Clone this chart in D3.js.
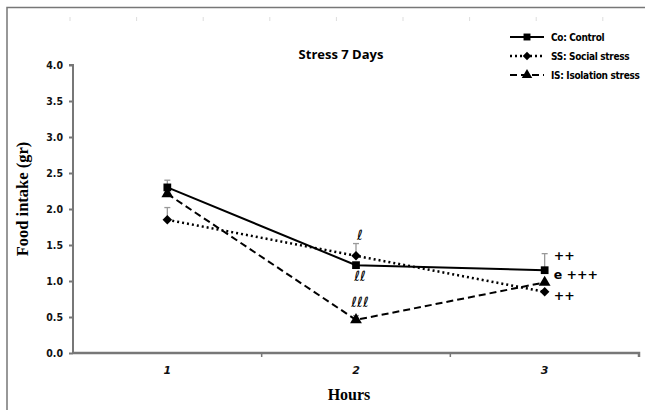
<!DOCTYPE html>
<html>
<head>
<meta charset="utf-8">
<script src="https://d3js.org/d3.v7.min.js"></script>
<style>
body { margin: 0; background: #fff; }
svg { display: block; }
</style>
</head>
<body>
<div id="chart"></div>
<script>
var hours = ['1', '2', '3'];
var yTicks = [0, 0.5, 1, 1.5, 2, 2.5, 3, 3.5, 4];

var control   = [2.30, 1.22, 1.15];
var controlUp = [2.40, null, 1.38];
var social    = [1.85, 1.35, 0.85];
var socialUp  = [2.02, 1.52, null];
var isolation   = [2.21, 0.46, 0.98];
var isolationUp = [null, 0.52, null];

var seriesNames = ['Co: Control', 'SS: Social stress', 'IS: Isolation stress'];

// annotations: [category, value, text]
var notes = [
  ['2', 1.57, 'ℓ'],
  ['2', 1.0, 'ℓℓ'],
  ['2', 0.64, 'ℓℓℓ'],
  ['3', 1.29, '++'],
  ['3', 1.03, 'e +++'],
  ['3', 0.74, '++']
];

var WIDTH = 645, HEIGHT = 410;
var LEFT = 73, RIGHT = 639, TOP = 65, BOTTOM = 353;

var svg = d3.select('#chart')
  .append('svg')
    .attr('width', WIDTH)
    .attr('height', HEIGHT);

// frame
svg.append('path')
  .attr('d', 'M7,' + HEIGHT + 'V7.5H' + WIDTH)
  .attr('fill', 'none')
  .attr('stroke', '#777')
  .attr('stroke-width', 1.5);

var x = d3.scaleBand().domain(hours).range([LEFT, RIGHT]);
var y = d3.scaleLinear().domain([0, 4]).range([BOTTOM, TOP]);
var cx = function(d) { return x(d) + x.bandwidth() / 2; };

// y axis
var yAxis = d3.axisLeft(y).tickValues(yTicks).tickSize(4).tickPadding(6)
  .tickFormat(d3.format('.1f'));
var gy = svg.append('g')
  .attr('transform', 'translate(' + LEFT + ',0)')
  .call(yAxis);
gy.select('.domain').attr('stroke', '#777').attr('stroke-width', 2)
  .attr('d', 'M-4,' + TOP + 'H0V' + BOTTOM);
gy.selectAll('.tick line').attr('stroke', '#777').attr('stroke-width', 2);
gy.selectAll('.tick text')
  .style('font-family', 'DejaVu Sans Condensed, DejaVu Sans')
  .style('font-weight', 'bold')
  .style('font-size', '10.5px')
  .attr('fill', '#111');

// x axis
var xAxis = d3.axisBottom(x).tickSize(0).tickPadding(13);
var gx = svg.append('g')
  .attr('transform', 'translate(0,' + BOTTOM + ')')
  .call(xAxis);
gx.select('.domain').attr('stroke', '#777').attr('stroke-width', 2.5)
  .attr('d', 'M' + LEFT + ',0H' + RIGHT + 'V4');
gx.selectAll('.tick text')
  .style('font-family', 'DejaVu Sans')
  .style('font-weight', 'bold')
  .style('font-style', 'italic')
  .style('font-size', '11px')
  .attr('fill', '#111');
// category separator ticks
gx.selectAll('.sep')
  .data(hours.slice(1))
  .enter().append('line')
    .attr('x1', function(d) { return x(d); })
    .attr('x2', function(d) { return x(d); })
    .attr('y1', 0).attr('y2', 4)
    .attr('stroke', '#777').attr('stroke-width', 1.5);

// faint marks along the top
svg.selectAll('.faint')
  .data(d3.range(70, 645, 66.6))
  .enter().append('line')
    .attr('x1', function(d) { return d; }).attr('x2', function(d) { return d; })
    .attr('y1', 17).attr('y2', 21)
    .attr('stroke', '#ddd');

// error bars
function errorBars(vals, ups) {
  var g = svg.append('g');
  hours.forEach(function(h, i) {
    if (ups[i] == null) return;
    var px = cx(h);
    g.append('line').attr('x1', px).attr('x2', px)
      .attr('y1', y(vals[i])).attr('y2', y(ups[i]))
      .attr('stroke', '#999').attr('stroke-width', 1.3);
    g.append('line').attr('x1', px - 3).attr('x2', px + 3)
      .attr('y1', y(ups[i])).attr('y2', y(ups[i]))
      .attr('stroke', '#999').attr('stroke-width', 1.3);
  });
}
errorBars(control, controlUp);
errorBars(social, socialUp);
errorBars(isolation, isolationUp);

var line = d3.line()
  .x(function(d, i) { return cx(hours[i]); })
  .y(function(d) { return y(d); });

var styles = [
  { data: control, dash: null, width: 2, symbol: d3.symbolSquare, size: 60, rot: 0 },
  { data: social, dash: '2,3', width: 2.5, symbol: d3.symbolSquare, size: 45, rot: 45 },
  { data: isolation, dash: '7,4', width: 2, symbol: d3.symbolTriangle, size: 60, rot: 0 }
];

styles.forEach(function(s) {
  svg.append('path')
    .datum(s.data)
    .attr('d', line)
    .attr('fill', 'none')
    .attr('stroke', '#000')
    .attr('stroke-width', s.width)
    .attr('stroke-dasharray', s.dash);
  svg.selectAll(null)
    .data(s.data)
    .enter().append('path')
      .attr('d', d3.symbol().type(s.symbol).size(s.size))
      .attr('transform', function(d, i) {
        return 'translate(' + cx(hours[i]) + ',' + y(d) + ') rotate(' + s.rot + ')';
      })
      .attr('fill', '#000');
});

// annotations
svg.selectAll('.note')
  .data(notes)
  .enter().append('text')
    .attr('x', function(d) { return cx(d[0]) + (d[0] === '2' ? 4 : 9); })
    .attr('y', function(d) { return y(d[1]); })
    .attr('text-anchor', function(d) { return d[0] === '2' ? 'middle' : 'start'; })
    .style('font-family', 'DejaVu Sans')
    .style('font-weight', function(d) { return d[0] === '2' ? 'normal' : 'bold'; })
    .style('font-size', function(d) { return d[0] === '2' ? '14px' : '12.5px'; })
    .attr('fill', '#000')
    .text(function(d) { return d[2]; });

// title
svg.append('text')
  .attr('x', 341).attr('y', 59)
  .attr('text-anchor', 'middle')
  .style('font-family', 'Open Sans')
  .style('font-weight', 'bold')
  .style('font-size', '13px')
  .text('Stress 7 Days');

// axis titles
svg.append('text')
  .attr('transform', 'translate(28,' + ((TOP + BOTTOM) / 2 - 10) + ') rotate(-90)')
  .attr('text-anchor', 'middle')
  .style('font-family', 'Liberation Serif')
  .style('font-weight', 'bold')
  .style('font-size', '16.5px')
  .text('Food intake (gr)');

svg.append('text')
  .attr('x', 349).attr('y', 400)
  .attr('text-anchor', 'middle')
  .style('font-family', 'Liberation Serif')
  .style('font-weight', 'bold')
  .style('font-size', '16px')
  .text('Hours');

// legend
var legend = svg.append('g').attr('transform', 'translate(510,37)');
styles.forEach(function(s, i) {
  var row = legend.append('g').attr('transform', 'translate(0,' + (i * 19) + ')');
  row.append('line')
    .attr('x1', 0).attr('x2', 34).attr('y1', 0).attr('y2', 0)
    .attr('stroke', '#000').attr('stroke-width', s.width)
    .attr('stroke-dasharray', s.dash);
  row.append('path')
    .attr('d', d3.symbol().type(s.symbol).size(s.size * 0.8))
    .attr('transform', 'translate(17,0) rotate(' + s.rot + ')')
    .attr('fill', '#000');
  row.append('text')
    .attr('x', 41).attr('y', 4)
    .style('font-family', 'DejaVu Sans Condensed, DejaVu Sans')
    .style('font-weight', 'bold')
    .style('font-size', '10px')
    .style('letter-spacing', '-0.3px')
    .text(seriesNames[i]);
});
</script>
</body>
</html>
